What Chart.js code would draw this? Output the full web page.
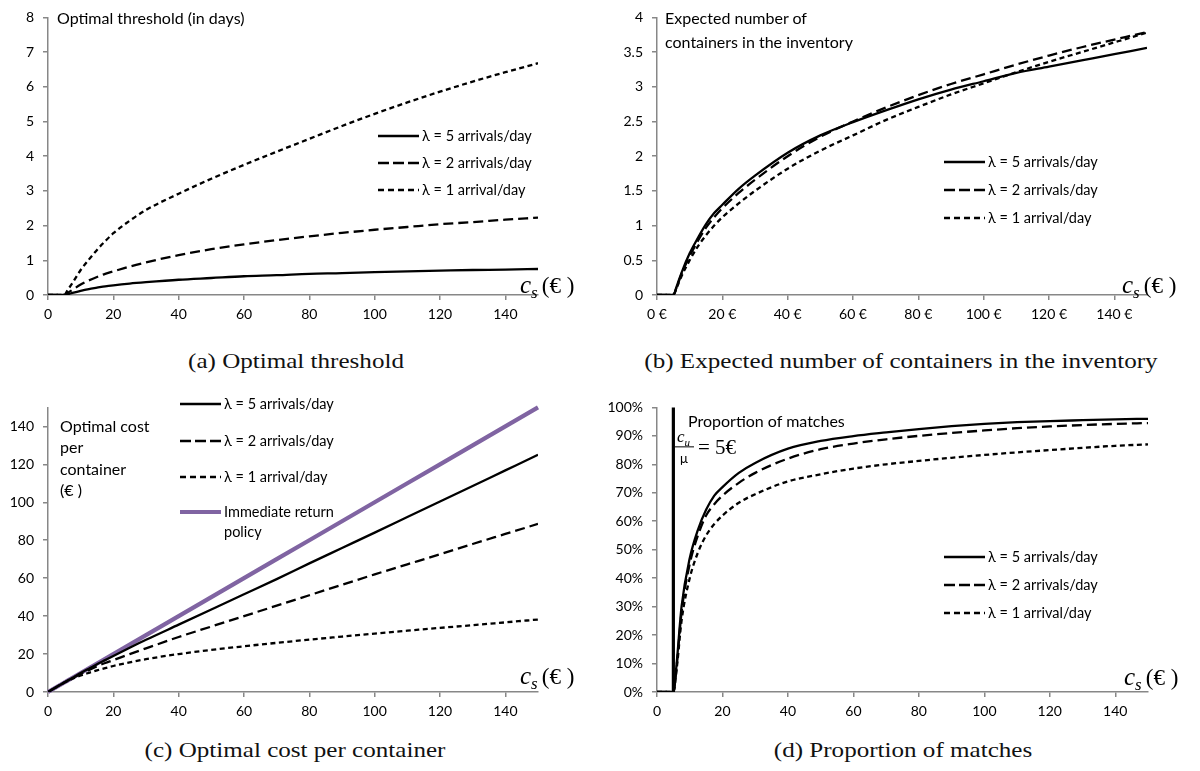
<!DOCTYPE html>
<html><head><meta charset="utf-8">
<script src="https://cdn.jsdelivr.net/npm/chart.js@4.4.1/dist/chart.umd.min.js"></script>
<style>
body{margin:0;background:#fff;width:1200px;height:771px;overflow:hidden;position:relative;font-family:Lato,'Noto Sans',sans-serif;}
canvas{position:absolute;}
.t{position:absolute;white-space:nowrap;color:#000;line-height:1;transform:translateY(-50%);}
.ttl{font-size:16px;}
.lg{font-size:14.5px;}
.cap{position:absolute;font-family:'Liberation Serif',serif;font-size:22px;white-space:nowrap;transform:translate(-50%,-50%) scaleX(1.14);line-height:1;color:#111;}
.cs{position:absolute;white-space:nowrap;font-family:'Liberation Serif',serif;line-height:1;transform:translateY(-50%);}
.cs i{font-size:25px;}
.cs sub{font-size:17px;font-style:italic;vertical-align:-5px;}
.cs span{font-size:23px;}
svg{position:absolute;overflow:visible;}
</style></head><body>
<canvas id="ca" width="600" height="340" style="left:0;top:0;width:600px;height:340px"></canvas>
<canvas id="cb" width="600" height="340" style="left:600px;top:0;width:600px;height:340px"></canvas>
<canvas id="cc" width="600" height="340" style="left:0;top:390px;width:600px;height:340px"></canvas>
<canvas id="cd" width="600" height="340" style="left:600px;top:390px;width:600px;height:340px"></canvas>
<div id="overlay"></div>
<script>
// ---------- DATA ----------
const cs = [0, 5, 6, 7.5, 10, 12.5, 15, 17.5, 20, 25, 30, 40, 50, 60, 70, 80, 90, 100, 110, 120, 130, 140, 150];
const seriesNames = ['λ = 5 arrivals/day', 'λ = 2 arrivals/day', 'λ = 1 arrival/day'];

// tick values
const xTickValues = [0, 20, 40, 60, 80, 100, 120, 140];
const yTicksA = [0, 1, 2, 3, 4, 5, 6, 7, 8];
const yTicksB = [0, 0.5, 1, 1.5, 2, 2.5, 3, 3.5, 4];
const yTicksC = [0, 20, 40, 60, 80, 100, 120, 140];
const yTicksD = [0, 0.1, 0.2, 0.3, 0.4, 0.5, 0.6, 0.7, 0.8, 0.9, 1];

// (a) Optimal threshold (in days)
const thresholdL5 = [0, 0, 0.02, 0.06, 0.12, 0.17, 0.21, 0.25, 0.28, 0.33, 0.37, 0.44, 0.49, 0.54, 0.57, 0.61, 0.63, 0.66, 0.68, 0.70, 0.72, 0.73, 0.75];
const thresholdL2 = [0, 0, 0.06, 0.15, 0.30, 0.42, 0.52, 0.61, 0.68, 0.82, 0.94, 1.15, 1.32, 1.46, 1.58, 1.69, 1.79, 1.88, 1.96, 2.04, 2.10, 2.17, 2.23];
const thresholdL1 = [0, 0, 0.14, 0.35, 0.72, 1.02, 1.30, 1.55, 1.78, 2.14, 2.45, 2.92, 3.35, 3.75, 4.13, 4.50, 4.87, 5.22, 5.55, 5.86, 6.15, 6.42, 6.68];

// (b) Expected number of containers in the inventory
const inventoryL5 = [0, 0, 0.12, 0.32, 0.60, 0.82, 1.02, 1.18, 1.30, 1.53, 1.72, 2.05, 2.30, 2.49, 2.66, 2.82, 2.96, 3.08, 3.20, 3.29, 3.38, 3.47, 3.56];
const inventoryL2 = [0, 0, 0.11, 0.30, 0.56, 0.78, 0.97, 1.12, 1.25, 1.47, 1.66, 2.00, 2.28, 2.50, 2.70, 2.88, 3.04, 3.18, 3.32, 3.45, 3.57, 3.68, 3.79];
const inventoryL1 = [0, 0, 0.10, 0.27, 0.50, 0.70, 0.86, 1.00, 1.12, 1.32, 1.50, 1.82, 2.08, 2.30, 2.52, 2.71, 2.89, 3.05, 3.21, 3.36, 3.50, 3.64, 3.78];

// (c) Optimal cost per container (€)
const costL5 = [0, 5, 6, 7.5, 10, 12.3, 14.6, 16.8, 19, 23.3, 27.5, 35.5, 43.5, 51.5, 59.5, 67.8, 75.9, 84, 92.2, 100.4, 108.6, 116.8, 125];
const costL2 = [0, 5, 5.95, 7.3, 9.5, 11.6, 13.6, 15.3, 16.8, 20, 23, 29, 34.5, 40, 45.5, 51, 56.5, 62, 67.3, 72.6, 78, 83.3, 88.6];
const costL1 = [0, 5, 5.8, 7, 8.7, 10.1, 11.4, 12.6, 13.7, 15.6, 17.3, 20, 22.2, 24.1, 25.9, 27.6, 29.2, 30.8, 32.3, 33.8, 35.2, 36.7, 38.2];
const costImmediate = [0, 5, 6, 7.5, 10, 12.5, 15, 17.5, 20, 25, 30, 40, 50, 60, 70, 80, 90, 100, 110, 120, 130, 140, 150];

// (d) Proportion of matches
const matchesL5 = [0, 0, 0.10, 0.30, 0.47, 0.57, 0.64, 0.69, 0.72, 0.77, 0.805, 0.855, 0.882, 0.899, 0.912, 0.924, 0.934, 0.942, 0.948, 0.952, 0.955, 0.958, 0.960];
const matchesL2 = [0, 0, 0.09, 0.28, 0.45, 0.55, 0.62, 0.66, 0.69, 0.735, 0.77, 0.82, 0.853, 0.873, 0.888, 0.900, 0.910, 0.919, 0.927, 0.933, 0.938, 0.942, 0.945];
const matchesL1 = [0, 0, 0.08, 0.25, 0.40, 0.49, 0.55, 0.59, 0.62, 0.665, 0.695, 0.74, 0.765, 0.785, 0.800, 0.812, 0.823, 0.833, 0.842, 0.850, 0.858, 0.865, 0.870];
const cuOverMu = 5;
const matchMarkerY = [0, 1];

// ---------- HELPERS ----------
const AX = '#878787';
const TICKFONT = {family: 'Lato', size: 14};
const DASHES = [[], [10, 5], [5, 3.5]];
function ds(ys, k) {
  return {data: cs.map((x, i) => ({x, y: ys[i]})), borderColor: '#000', borderWidth: 2.3,
          borderDash: DASHES[k], borderCapStyle: 'butt', fill: false, pointRadius: 0,
          cubicInterpolationMode: 'monotone'};
}
function make(id, o) {
  return new Chart(document.getElementById(id), {
    type: 'line',
    data: {datasets: o.datasets},
    options: {
      responsive: false, animation: false, events: [],
      layout: {padding: {left: 0, right: o.padR, top: o.padT, bottom: o.padB}},
      plugins: {legend: {display: false}, tooltip: {enabled: false}},
      scales: {
        x: {type: 'linear', min: 0, max: 150,
            ticks: {color: '#000', font: TICKFONT, padding: 6, maxRotation: 0, autoSkip: false, callback: o.xfmt},
            grid: {drawOnChartArea: false, drawTicks: true, tickLength: 5, color: AX, lineWidth: 1.5},
            border: {display: true, color: AX, width: 1.5},
            afterBuildTicks: s => { s.ticks = xTickValues.map(v => ({value: v})); },
            afterFit: s => { s.height = 35; }},
        y: {type: 'linear', min: o.ymin, max: o.ymax,
            ticks: {color: '#000', font: TICKFONT, padding: 9, autoSkip: false, callback: o.yfmt},
            grid: {drawOnChartArea: false, drawTicks: true, tickLength: 5, color: AX, lineWidth: 1.5},
            border: {display: true, color: AX, width: 1.5},
            afterBuildTicks: s => { s.ticks = o.yticks.map(v => ({value: v})); },
            afterFit: s => { s.width = o.yw; }}
      }
    }
  });
}
const num = v => String(v);

make('ca', {datasets: [ds(thresholdL5, 0), ds(thresholdL2, 1), ds(thresholdL1, 2)],
  padR: 62, padT: 11, padB: 340 - 295 - 35, ymin: 0, ymax: 8, yticks: yTicksA, yw: 48, yfmt: num, xfmt: num});
make('cb', {datasets: [ds(inventoryL5, 0), ds(inventoryL2, 1), ds(inventoryL1, 2)],
  padR: 53, padT: 11, padB: 340 - 295 - 35, ymin: 0, ymax: 4, yticks: yTicksB, yw: 57, yfmt: num, xfmt: v => v + ' €'});
const purple = {data: cs.map((x, i) => ({x, y: costImmediate[i]})), borderColor: '#8064A2', borderWidth: 4.2,
  pointRadius: 0, fill: false, tension: 0, borderCapStyle: 'butt', clip: 4};
make('cc', {datasets: [ds(costL5, 0), ds(costL2, 1), ds(costL1, 2), purple],
  padR: 62, padT: 16, padB: 340 - 302 - 35, ymin: 0, ymax: 150, yticks: yTicksC, yw: 48, yfmt: num, xfmt: num});
const marker = {data: matchMarkerY.map(y => ({x: cuOverMu, y})), borderColor: '#000', borderWidth: 3.2,
  pointRadius: 0, fill: false, tension: 0, clip: 4};
make('cd', {datasets: [marker, ds(matchesL5, 0), ds(matchesL2, 1), ds(matchesL1, 2)],
  padR: 52, padT: 17, padB: 340 - 302 - 35, ymin: 0, ymax: 1, yticks: yTicksD, yw: 57,
  yfmt: v => Math.round(v * 100) + '%', xfmt: num});

// ---------- TEXT OVERLAYS ----------
const ov = document.getElementById('overlay');
function txt(html, x, y, cls, extra) {
  const d = document.createElement('div');
  d.className = cls; d.innerHTML = html;
  d.style.left = x + 'px'; d.style.top = y + 'px';
  if (extra) Object.assign(d.style, extra);
  ov.appendChild(d); return d;
}
function legend(x1, ys, names, withPurple) {
  names.forEach((n, k) => {
    const y = ys[k];
    const svg = document.createElementNS('http://www.w3.org/2000/svg', 'svg');
    svg.setAttribute('width', 42); svg.setAttribute('height', 8);
    svg.style.left = x1 + 'px'; svg.style.top = (y - 4) + 'px';
    const isP = withPurple && k === 3;
    const dash = isP ? '' : (k === 1 ? '11,4' : (k === 2 ? '6,4' : ''));
    svg.innerHTML = '<line x1="0" y1="4" x2="41" y2="4" stroke="' + (isP ? '#8064A2' : '#000') + '" stroke-width="' + (isP ? 4.2 : 2.4) + '" stroke-dasharray="' + dash + '"/>';
    ov.appendChild(svg);
    txt(n, x1 + 44, y, 't lg');
  });
}
// (a)
txt('Optimal threshold (in days)', 57, 18, 't ttl');
legend(378, [136, 163, 190], seriesNames);
// (b)
txt('Expected number of', 665, 18, 't ttl');
txt('containers in the inventory', 665, 42, 't ttl');
legend(944, [162, 190, 218], seriesNames);
// (c)
txt('Optimal cost', 60, 426, 't ttl');
txt('per', 60, 447, 't ttl');
txt('container', 60, 469, 't ttl');
txt('(€ )', 60, 490, 't ttl');
legend(180, [404, 441, 477, 512], [seriesNames[0], seriesNames[1], seriesNames[2], 'Immediate return'], true);
txt('policy', 224, 532, 't lg');
// (d)
txt('Proportion of matches', 688, 421, 't ttl');
txt('<i>c</i><sub style="font-size:11px;font-style:italic">u</sub>', 677, 438, 't', {fontFamily: "'Liberation Serif',serif", fontSize: '17px'});
txt('', 675, 447, 't', {width: '19px', height: '1.3px', background: '#000'});
txt('μ', 680, 458, 't', {fontSize: '13px'});
txt('= 5€', 698, 447, 't', {fontFamily: "'Liberation Serif',serif", fontSize: '21px'});
legend(944, [557, 585, 613], seriesNames);
// c_s labels
const csLbl = '<i>c</i><sub>s</sub> <span>(€ )</span>';
txt(csLbl, 520, 286, 'cs');
txt(csLbl, 1122, 286, 'cs');
txt(csLbl, 520, 677, 'cs');
txt(csLbl, 1124, 678, 'cs');
// captions
const captions = ['(a) Optimal threshold', '(b) Expected number of containers in the inventory', '(c) Optimal cost per container', '(d) Proportion of matches'];
txt(captions[0], 296, 361, 'cap');
txt(captions[1], 901, 361, 'cap');
txt(captions[2], 295, 750, 'cap');
txt(captions[3], 903, 750, 'cap');
</script>
</body></html>
